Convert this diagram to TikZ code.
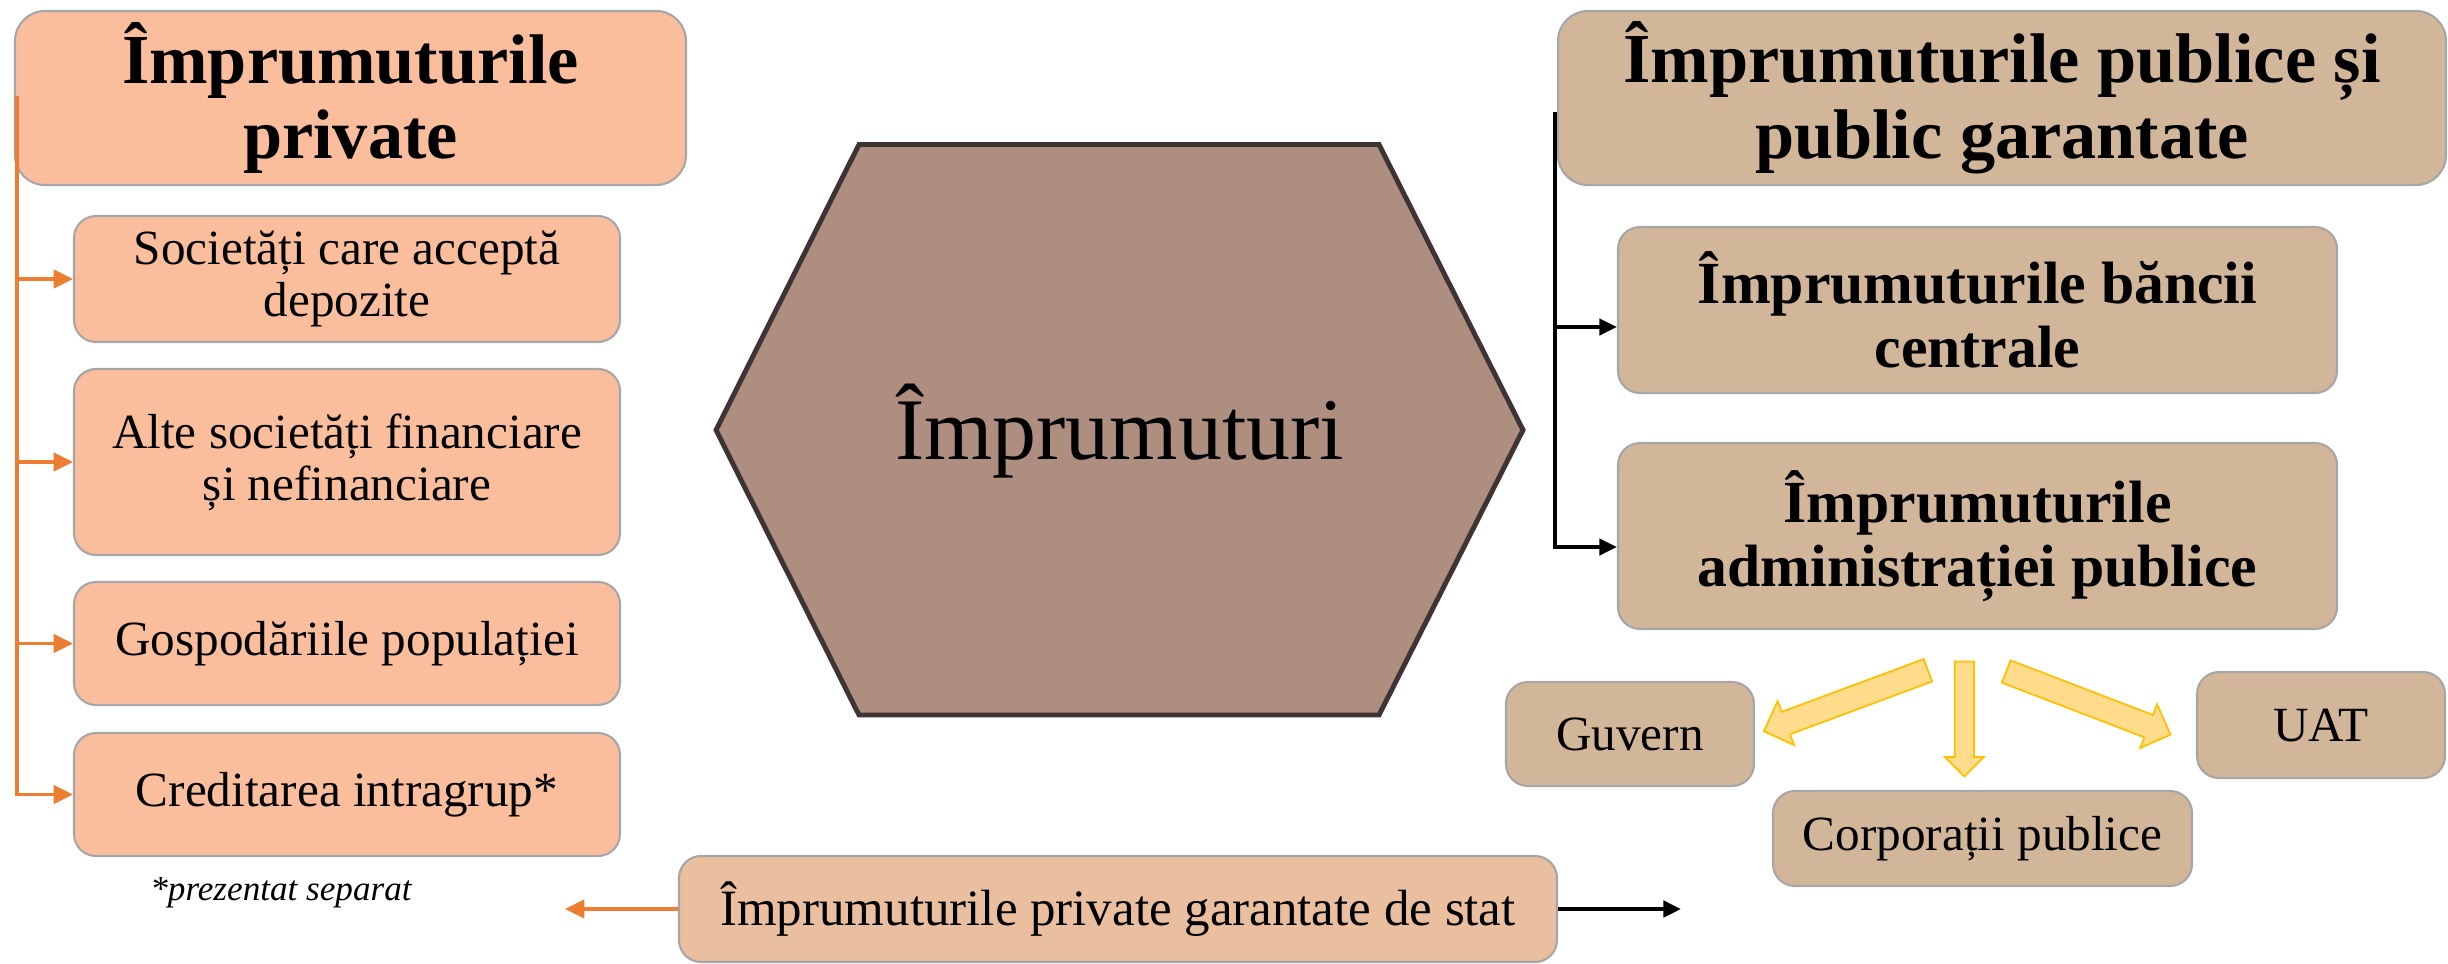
\documentclass[tikz,border=0pt]{standalone}
\usepackage{fontspec}
\setmainfont{Liberation Serif}
\usetikzlibrary{shapes.arrows}
\usetikzlibrary{positioning}
\usetikzlibrary{arrows.meta}
\definecolor{peach}{HTML}{FBBE9D}
\definecolor{boxtan}{HTML}{D2B699}
\definecolor{sand}{HTML}{E9BFA0}
\definecolor{hexfill}{HTML}{AE8E7E}
\definecolor{hexline}{HTML}{3F3434}
\definecolor{linkorange}{HTML}{ED7D31}
\definecolor{gold}{HTML}{FFC000}
\definecolor{lightgold}{HTML}{FFDB8C}

\begin{document}
\begin{tikzpicture}[
    box/.style={draw=gray!70, line width=0.6pt, rounded corners=0.22cm, align=center, inner sep=0pt},
    privbox/.style={box, fill=peach, minimum width=5.46cm, font=\fontsize{14}{14.8}\selectfont},
    pubbox/.style={box, fill=boxtan},
    orangelink/.style={draw=linkorange, line width=1pt, -{Triangle[length=5.5pt,width=5.2pt]}},
    blacklink/.style={draw=black, line width=1.1pt, -{Triangle[length=5pt,width=4.6pt]}},
    yarrow/.style={single arrow, draw=gold, fill=lightgold, line width=0.5pt, inner xsep=0pt, single arrow tip angle=90, anchor=tip}
]
            \useasboundingbox (0,0) rectangle (24.48,9.63);

            % Private loans
            \node[box, fill=peach, minimum width=6.71cm, minimum height=1.74cm, rounded corners=0.3cm, font=\bfseries\fontsize{20}{21.6}\selectfont] (privtitle) at (3.505,8.65) {Împrumuturile\\private};
            \node[privbox, minimum height=1.26cm] (soc) at (3.47,6.84) {Societăți care acceptă\\depozite};
            \node[privbox, minimum height=1.86cm] (alte) at (3.47,5.01) {Alte societăți financiare\\și nefinanciare};
            \node[privbox, minimum height=1.23cm] (gosp) at (3.47,3.195) {Gospodăriile populației};
            \node[privbox, minimum height=1.23cm] (cred) at (3.47,1.685) {Creditarea intragrup*};
            \node[font=\itshape\fontsize{10}{12}\selectfont] (note) at (2.81,0.70) {*prezentat separat};

            \coordinate (ptop) at ([xshift=0.03cm,yshift=0.02cm]privtitle.west);
            \draw[orangelink] (ptop) |- (cred.west);
            \draw[orangelink] (ptop |- soc.west) -- (soc.west);
            \draw[orangelink] (ptop |- alte.west) -- (alte.west);
            \draw[orangelink] (ptop |- gosp.west) -- (gosp.west);

            % Central hexagon
            \draw[fill=hexfill, draw=hexline, line width=1.4pt] (7.16,5.33) -- (8.59,8.185) -- (13.79,8.185) -- (15.23,5.33) -- (13.79,2.48) -- (8.59,2.48) -- cycle;
            \node[font=\fontsize{25}{30}\selectfont] (loans) at (11.195,5.32) {Împrumuturi};

            % Public and publicly guaranteed loans
            \node[box, fill=boxtan, minimum width=8.88cm, minimum height=1.74cm, rounded corners=0.3cm, font=\bfseries\fontsize{20}{21.6}\selectfont] (pubtitle) at (20.02,8.65) {Împrumuturile publice și\\public garantate};
            \node[pubbox, minimum width=7.19cm, minimum height=1.66cm, font=\bfseries\fontsize{17}{18.3}\selectfont] (bancii) at (19.775,6.53) {Împrumuturile băncii\\centrale};
            \node[pubbox, minimum width=7.19cm, minimum height=1.86cm, font=\bfseries\fontsize{17}{18.3}\selectfont] (adm) at (19.775,4.27) {Împrumuturile\\administrației publice};
            \node[pubbox, minimum width=2.48cm, minimum height=1.04cm, font=\fontsize{14}{16}\selectfont] (guv) at (16.30,2.29) {Guvern};
            \node[pubbox, minimum width=2.48cm, minimum height=1.06cm, font=\fontsize{14}{16}\selectfont] (uat) at (23.21,2.38) {UAT};
            \node[pubbox, minimum width=4.19cm, minimum height=0.95cm, font=\fontsize{14}{16}\selectfont] (corp) at (19.825,1.245) {Corporații publice};

            \coordinate (qtop) at ([xshift=-0.02cm,yshift=-0.14cm]pubtitle.west);
            \draw[blacklink] (qtop) |- ([yshift=-0.11cm]adm.west);
            \draw[blacklink] ([yshift=-0.17cm]qtop |- bancii.west) -- ([yshift=-0.17cm]bancii.west);

            % Block arrows under the administration box
            \node[yarrow, minimum height=1.75cm, inner ysep=0.111cm, single arrow head extend=0.115cm, rotate=200.4] (toguv) at (17.627,2.313) {};
            \node[yarrow, minimum height=1.15cm, inner ysep=0.088cm, single arrow head extend=0.097cm, rotate=270] (tocorp) at (19.643,1.853) {};
            \node[yarrow, minimum height=1.76cm, inner ysep=0.111cm, single arrow head extend=0.115cm, rotate=339] (touat) at (21.717,2.28) {};

            % State guaranteed private loans
            \node[box, fill=sand, minimum width=8.78cm, minimum height=1.06cm, font=\fontsize{14.5}{16}\selectfont] (garant) at (11.18,0.54) {Împrumuturile private garantate de stat};
            \coordinate (gleft) at (5.65,0.54);
            \coordinate (gright) at (16.81,0.54);
            \draw[orangelink, line width=0.95pt] (garant.west) -- (gleft);
            \draw[blacklink] (garant.east) -- (gright);
        \end{tikzpicture}
\end{document}
